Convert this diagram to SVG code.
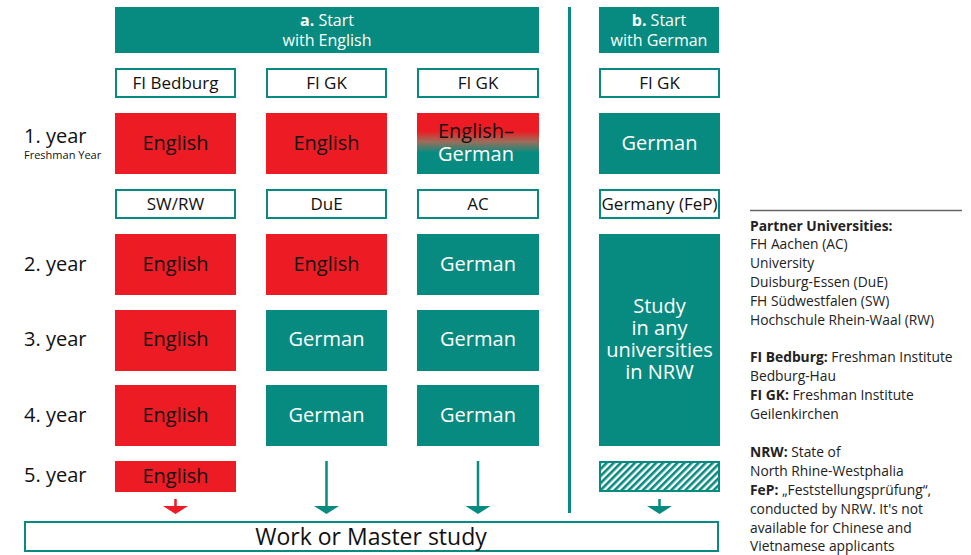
<svg xmlns="http://www.w3.org/2000/svg" width="971" height="555" viewBox="0 0 971 555">
<defs>
<linearGradient id="eg" x1="0" y1="0" x2="0" y2="1">
<stop offset="0.3" stop-color="#ED1C24"/>
<stop offset="0.47" stop-color="#9C6E5A"/>
<stop offset="0.65" stop-color="#078B80"/>
</linearGradient>
<pattern id="hatch" patternUnits="userSpaceOnUse" width="5" height="5" patternTransform="rotate(45)">
<rect x="0" y="0" width="5" height="5" fill="#fff"/>
<rect x="0" y="0" width="2.6" height="5" fill="#078B80"/>
</pattern>
</defs>
<style>
text{font-family:"Open Sans","Noto Sans","Liberation Sans",sans-serif}
.hdr{fill:#078B80}
.hdrt{fill:#fff;font-size:16px;text-anchor:middle}
.inst{fill:#fff;stroke:#078B80;stroke-width:2}
.instt{fill:#111;font-size:17px;text-anchor:middle}
.red{fill:#ED1C24}
.teal{fill:#078B80}
.bt{fill:#111;font-size:20px;text-anchor:middle}
.wt{fill:#fff;font-size:20px;text-anchor:middle}
.yr{fill:#111;font-size:20px}
.leg{fill:#222;font-size:13.8px}
.b{font-weight:bold}
</style>
<rect x="0" y="0" width="971" height="555" fill="#fff"/>

<g id="header-a"><rect class="hdr" x="115" y="7" width="424" height="46"/>
<text class="hdrt" x="327" y="26"><tspan font-weight="bold">a.</tspan> Start</text>
<text class="hdrt" x="327" y="46">with English</text></g>
<g id="header-b"><rect class="hdr" x="599" y="7" width="120" height="46"/>
<text class="hdrt" x="659" y="26"><tspan font-weight="bold">b.</tspan> Start</text>
<text class="hdrt" x="659" y="46">with German</text></g>

<g id="labels">
<text class="yr" x="24" y="143">1. year</text>
<text x="24" y="159" font-size="11" fill="#111">Freshman Year</text>
<text class="yr" x="24" y="271">2. year</text>
<text class="yr" x="24" y="346">3. year</text>
<text class="yr" x="24" y="422">4. year</text>
<text class="yr" x="24" y="482">5. year</text>
</g>

<g id="inst-1"><rect class="inst" x="116" y="69" width="119" height="28"/><text class="instt" x="175.5" y="89">FI Bedburg</text></g>
<g id="inst-2"><rect class="inst" x="267" y="69" width="119" height="28"/><text class="instt" x="326.5" y="89">FI GK</text></g>
<g id="inst-3"><rect class="inst" x="418" y="69" width="120" height="28"/><text class="instt" x="478" y="89">FI GK</text></g>
<g id="inst-b"><rect class="inst" x="600" y="69" width="119" height="28"/><text class="instt" x="659.5" y="89">FI GK</text></g>

<g id="y1-1"><rect class="red" x="115" y="113" width="121" height="61"/><text class="bt" x="175.5" y="150">English</text></g>
<g id="y1-2"><rect class="red" x="266" y="113" width="121" height="61"/><text class="bt" x="326.5" y="150">English</text></g>
<g id="y1-3"><rect fill="url(#eg)" x="417" y="113" width="122" height="61"/><text class="bt" x="476" y="138">English–</text><text class="wt" x="476" y="161">German</text></g>
<g id="y1-b"><rect class="teal" x="599" y="113" width="121" height="61"/><text class="wt" x="659.5" y="150">German</text></g>

<g id="uni-1"><rect class="inst" x="116" y="190" width="119" height="28"/><text class="instt" x="175.5" y="210">SW/RW</text></g>
<g id="uni-2"><rect class="inst" x="267" y="190" width="119" height="28"/><text class="instt" x="326.5" y="210">DuE</text></g>
<g id="uni-3"><rect class="inst" x="418" y="190" width="120" height="28"/><text class="instt" x="478" y="210">AC</text></g>
<g id="uni-b"><rect class="inst" x="600" y="190" width="119" height="28"/><text class="instt" x="659.5" y="210">Germany (FeP)</text></g>

<g id="y2-1"><rect class="red" x="115" y="234" width="121" height="61"/><text class="bt" x="175.5" y="271">English</text></g>
<g id="y2-2"><rect class="red" x="266" y="234" width="121" height="61"/><text class="bt" x="326.5" y="271">English</text></g>
<g id="y2-3"><rect class="teal" x="417" y="234" width="122" height="61"/><text class="wt" x="478" y="271">German</text></g>

<g id="y3-1"><rect class="red" x="115" y="310" width="121" height="61"/><text class="bt" x="175.5" y="346">English</text></g>
<g id="y3-2"><rect class="teal" x="266" y="310" width="121" height="61"/><text class="wt" x="326.5" y="346">German</text></g>
<g id="y3-3"><rect class="teal" x="417" y="310" width="122" height="61"/><text class="wt" x="478" y="346">German</text></g>

<g id="y4-1"><rect class="red" x="115" y="385" width="121" height="61"/><text class="bt" x="175.5" y="422">English</text></g>
<g id="y4-2"><rect class="teal" x="266" y="385" width="121" height="61"/><text class="wt" x="326.5" y="422">German</text></g>
<g id="y4-3"><rect class="teal" x="417" y="385" width="122" height="61"/><text class="wt" x="478" y="422">German</text></g>

<g id="y5-1"><rect class="red" x="115" y="461" width="121" height="31"/><text class="bt" x="175.5" y="483">English</text></g>

<g id="nrw"><rect class="teal" x="599" y="234" width="121" height="212"/>
<text class="wt" x="659.5" y="313">Study</text>
<text class="wt" x="659.5" y="335">in any</text>
<text class="wt" x="659.5" y="357">universities</text>
<text class="wt" x="659.5" y="379">in NRW</text></g>

<g id="hatched"><rect x="600" y="462" width="119" height="29" fill="url(#hatch)" stroke="#078B80" stroke-width="2"/></g>

<g id="result"><rect x="25" y="522" width="693" height="29" fill="#fff" stroke="#078B80" stroke-width="2"/>
<text x="371" y="545" font-size="23" fill="#111" text-anchor="middle">Work or Master study</text></g>

<g id="connectors">
<line x1="569.5" y1="7" x2="569.5" y2="513" stroke="#078B80" stroke-width="3"/>
<line x1="175.5" y1="499" x2="175.5" y2="507" stroke="#ED1C24" stroke-width="2.5"/>
<polygon points="163,506 188,506 175.5,514" fill="#ED1C24"/>
<line x1="326.5" y1="461" x2="326.5" y2="507" stroke="#078B80" stroke-width="2.5"/>
<polygon points="314,506 339,506 326.5,514" fill="#078B80"/>
<line x1="478" y1="461" x2="478" y2="507" stroke="#078B80" stroke-width="2.5"/>
<polygon points="465.5,506 490.5,506 478,514" fill="#078B80"/>
<line x1="659.5" y1="499" x2="659.5" y2="507" stroke="#078B80" stroke-width="2.5"/>
<polygon points="647,506 672,506 659.5,514" fill="#078B80"/>
</g>

<g id="legend">
<line x1="750" y1="210.5" x2="962" y2="210.5" stroke="#666" stroke-width="1.5"/>
<text class="leg b" x="750" y="231">Partner Universities:</text>
<text class="leg" x="750" y="249">FH Aachen (AC)</text>
<text class="leg" x="750" y="268">University</text>
<text class="leg" x="750" y="287">Duisburg-Essen (DuE)</text>
<text class="leg" x="750" y="306">FH Südwestfalen (SW)</text>
<text class="leg" x="750" y="325">Hochschule Rhein-Waal (RW)</text>
<text class="leg" x="750" y="362"><tspan class="b">FI Bedburg:</tspan> Freshman Institute</text>
<text class="leg" x="750" y="381">Bedburg-Hau</text>
<text class="leg" x="750" y="400"><tspan class="b">FI GK:</tspan> Freshman Institute</text>
<text class="leg" x="750" y="419">Geilenkirchen</text>
<text class="leg" x="750" y="457"><tspan class="b">NRW:</tspan> State of</text>
<text class="leg" x="750" y="476">North Rhine-Westphalia</text>
<text class="leg" x="750" y="495"><tspan class="b">FeP:</tspan> „Feststellungsprüfung“,</text>
<text class="leg" x="750" y="514">conducted by NRW. It's not</text>
<text class="leg" x="750" y="533">available for Chinese and</text>
<text class="leg" x="750" y="551">Vietnamese applicants</text>
</g>
</svg>
